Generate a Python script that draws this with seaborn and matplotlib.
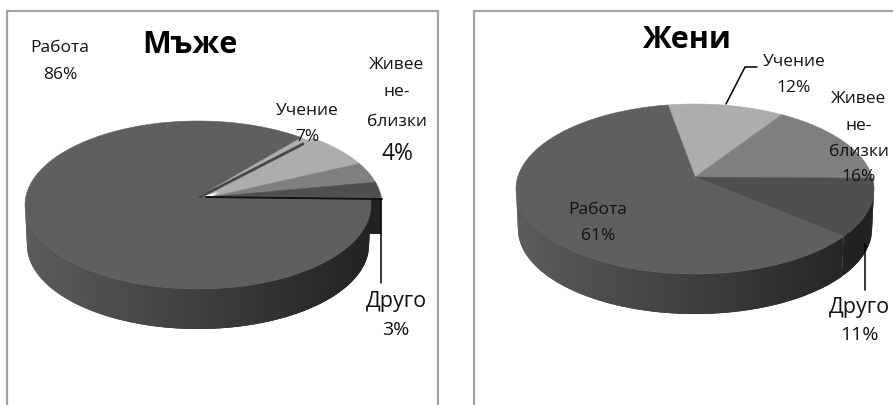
import numpy as np
import matplotlib
matplotlib.use("Agg")
import matplotlib.pyplot as plt
import seaborn as sns

labels = ["Учение", "Живее не-близки", "Друго", "Работа"]
men = [7, 4, 3, 86]
women = [12, 16, 11, 61]
top_colors = sns.color_palette(["#adadad", "#7f7f7f", "#4f4f4f", "#5f5f5f"])

sns.set_theme(style="white")
plt.rcParams["font.family"] = ["Open Sans", "DejaVu Sans"]


def arc(cx, cy, rx, ry, t1, t2, e=0.0, n=120):
    # e moves the pie centre towards the back, as the tilted view does
    t = np.radians(np.linspace(t1, t2, n))
    d = 1 + e * np.sin(t)
    return cx + rx * np.cos(t) * np.sqrt(1 - e ** 2) / d, cy - ry * (np.sin(t) + e) / d


def flat_angle(t, e):
    # angle on the drawn ellipse for an angle on the pie
    s = np.sin(np.radians(t))
    c = np.cos(np.radians(t))
    d = 1 + e * s
    return np.degrees(np.arctan2((s + e) / d, c * np.sqrt(1 - e ** 2) / d)) % 360


def side(ax, cx, cy, rx, ry, depth, t1, t2, c_left, c_right, x0, x1):
    # side wall, cut in narrow bands for the shading
    edges = np.linspace(t1, t2, int(abs(t2 - t1)) + 2)
    for a, b in zip(edges[:-1], edges[1:]):
        end = min(b + 1.5, t2)
        xa, ya = arc(cx, cy, rx, ry, a, end, n=5)
        xb, yb = arc(cx, cy + depth, rx - 2, ry, end, a, n=5)
        k = np.clip((xa.mean() - x0) / (x1 - x0), 0, 1)
        col = (c_left + (c_right - c_left) * k) / 255
        ax.fill(np.r_[xa, xb], np.r_[ya, yb], color=(col, col, col), lw=0)


def wedge(ax, cx, cy, rx, ry, t1, t2, color, e):
    x, y = arc(cx, cy, rx, ry, t1, t2, e)
    ax.fill(np.r_[cx, x], np.r_[cy - ry * e, y], color=color, lw=0.4)


def angles(values, start):
    stops = start - np.cumsum(values) * 3.6
    return np.r_[start, stops]


fig = plt.figure(figsize=(8.93, 4.06), dpi=100)
ax = fig.add_axes([0, 0, 1, 1])
ax.set_xlim(0, 893)
ax.set_ylim(406, 0)
ax.axis("off")

# panels
frame = "#a3a3a3"
ax.plot([6.5, 6.5, 438, 438], [406, 11.5, 11.5, 406], color=frame, lw=1.6)
ax.plot([473.5, 473.5, 893], [406, 11.5, 11.5], color=frame, lw=1.6)

# men: Работа pulled out of the pie
a = angles(men, 50)
e_men = 0.1
cut_x, cut_y = arc(212, 206, 170, 83, a[3], a[3], e_men, 1)
ax.fill([212, cut_x[0], cut_x[0], 212], [198, cut_y[0], 235, 235], color="#222222", lw=0)
wedge(ax, 198, 206, 173, 84, a[0], a[1], top_colors[0], e_men)  # closes the gap next to Работа
for i in range(3):
    wedge(ax, 212, 206, 170, 83, a[i], a[i + 1], top_colors[i], e_men)
side(ax, 198, 206, 173, 84, 40, 180, 360, 92, 34, 25, 371)
wedge(ax, 198, 206, 173, 84, a[3], a[4], top_colors[3], e_men)
ax.plot([206, 382], [198, 200], color="#111111", lw=1.4)
ax.plot([200, 303], [198, 145], color="#474747", lw=2)
ax.plot([381, 381], [200, 284], color="black", lw=1.1)

# women
b = angles(women, 100)
e_women = 0.14
other_end = flat_angle(b[3], e_women)
side(ax, 695, 190, 179, 85, 40, 180, other_end, 92, 38, 516, 843)
side(ax, 695, 190, 179, 85, 40, other_end, 360, 34, 34, 516, 874)
for i in range(4):
    wedge(ax, 695, 190, 179, 85, b[i], b[i + 1], top_colors[i], e_women)
ax.plot([726, 745, 757], [105, 68, 68], color="black", lw=1.1)
ax.plot([865, 865], [245, 291], color="black", lw=1.1)

# text
small = dict(ha="center", va="center", color="#111111")
ax.text(190, 45, "Мъже", fontsize=22, fontweight="bold", ha="center", va="center", color="black")
ax.text(687, 40, "Жени", fontsize=22, fontweight="bold", ha="center", va="center", color="black")
for x, y, s, fs in [
    (60, 48, "Работа", 12.5), (60, 75, "86%", 12.5),
    (307, 111, labels[0], 12.5), (307, 137, "7%", 12.5),
    (397, 65, "Живее", 12.5), (397, 92, "не-", 12.5), (397, 122, "близки", 12.5),
    (397, 154, "4%", 16.5),
    (396, 302, labels[2], 15.5), (396, 330, "3%", 14),
    (794, 62, labels[0], 12.5), (794, 88, "12%", 12.5),
    (859, 99, "Живее", 12.5), (859, 126, "не-", 12.5), (859, 152, "близки", 12.5),
    (859, 177, "16%", 12.5),
    (598, 210, "Работа", 12.5), (598, 236, "61%", 12.5),
    (859, 308, labels[2], 15.5), (859, 335, "11%", 14),
]:
    ax.text(x, y, s, fontsize=fs, **small)

fig.savefig("out.png", dpi=100, facecolor="white")
